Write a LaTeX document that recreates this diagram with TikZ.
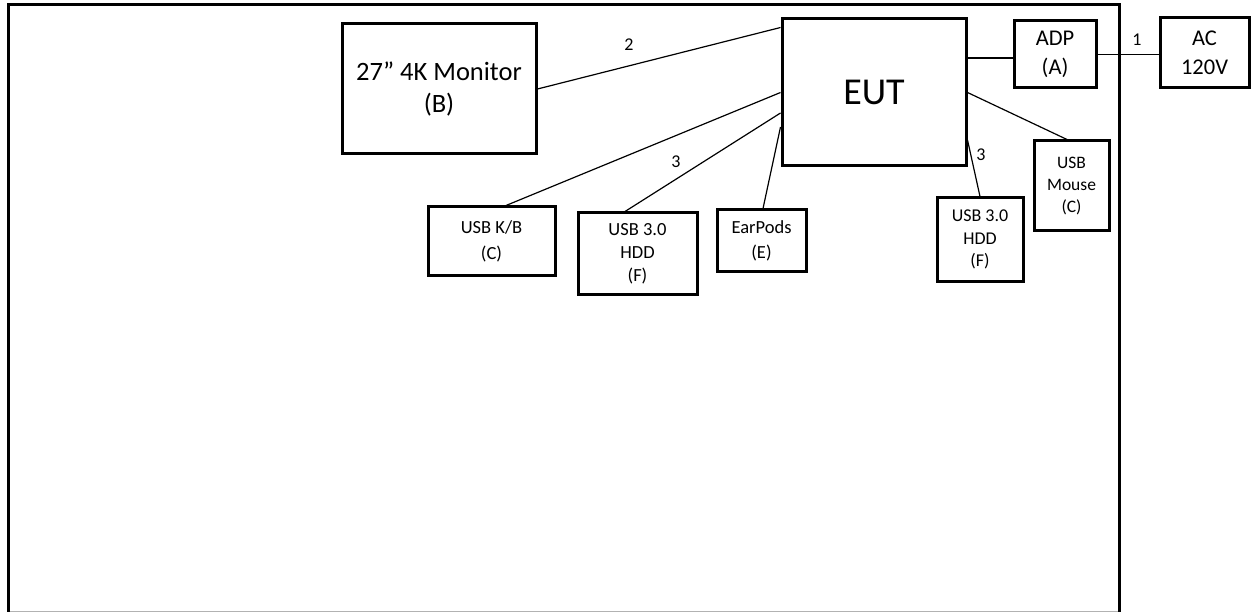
\documentclass[tikz,border=0pt]{standalone}
\usepackage{fontspec}
\setmainfont{Carlito}
\begin{document}
\begin{tikzpicture}[x=1pt,y=-1pt,
  box/.style={draw,line width=3pt,inner sep=0pt,align=center,anchor=center},
  wire/.style={line width=1.2pt},
  lbl/.style={inner sep=0pt,font=\fontsize{18}{22}\selectfont},
  frame/.style={line width=3pt}]
\useasboundingbox (0,0) rectangle (1252,612);
% frame
\draw[frame] (8,613) -- (8,5) -- (1119,5) -- (1119,613);
\draw[gray!60,line width=1pt] (9.5,611.5) -- (1117.5,611.5);
% boxes
\node[box,minimum width=194,minimum height=130,font=\fontsize{26.5}{32.5}\selectfont] (mon) at (439,89) {27” 4K Monitor\\(B)};
\node[box,minimum width=184,minimum height=147,font=\fontsize{38}{46}\selectfont] (eut) at (874,92.5) {EUT};
\node[box,minimum width=82,minimum height=67,font=\fontsize{22.5}{29.5}\selectfont] (adp) at (1055,54.5) {ADP\\(A)};
\node[box,minimum width=89,minimum height=70,font=\fontsize{22.5}{29.5}\selectfont] (ac) at (1204.5,53) {AC\\120V};
\node[box,minimum width=127,minimum height=68,font=\fontsize{18.5}{26}\selectfont] (kb) at (491.5,241) {USB K/B\\(C)};
\node[box,minimum width=119,minimum height=81,font=\fontsize{18.5}{23}\selectfont] (hddl) at (637.5,253.5) {USB 3.0\\HDD\\(F)};
\node[box,minimum width=89,minimum height=61,font=\fontsize{18.5}{25}\selectfont] (ep) at (761.5,240.5) {EarPods\\(E)};
\node[box,minimum width=86,minimum height=83,font=\fontsize{18}{22.5}\selectfont] (hddr) at (980,239.5) {USB 3.0\\HDD\\(F)};
\node[box,minimum width=75,minimum height=90,font=\fontsize{17.5}{22}\selectfont] (mouse) at (1071.5,186) {USB\\Mouse\\(C)};
% connectors
\draw[wire] (mon.east) -- ([yshift=-10pt]eut.north west);
\draw[wire] ([xshift=14.5pt]kb.north) -- (eut.west);
\draw[wire] ([xshift=-12.5pt]hddl.north) -- ([yshift=-20.5pt]eut.west);
\draw[wire] ([xshift=1.5pt]ep.north) -- ([yshift=-34.5pt]eut.west);
\draw[wire] ([yshift=-3.5pt]adp.west) -- ([yshift=-3.5pt]adp.west -| eut.east);
\draw[wire] (adp.east) -- (adp.east -| ac.west);
\draw[wire] (eut.east) -- ([xshift=-4.5pt]mouse.north);
\draw[wire] ([yshift=-47.5pt]eut.east) -- (hddr.north);
% labels
\node[lbl] (l2) at (629,45) {2};
\node[lbl] (l3a) at (676,162) {3};
\node[lbl] (l3b) at (981,155) {3};
\node[lbl] (l1) at (1137,40) {1};
\end{tikzpicture}
\end{document}
